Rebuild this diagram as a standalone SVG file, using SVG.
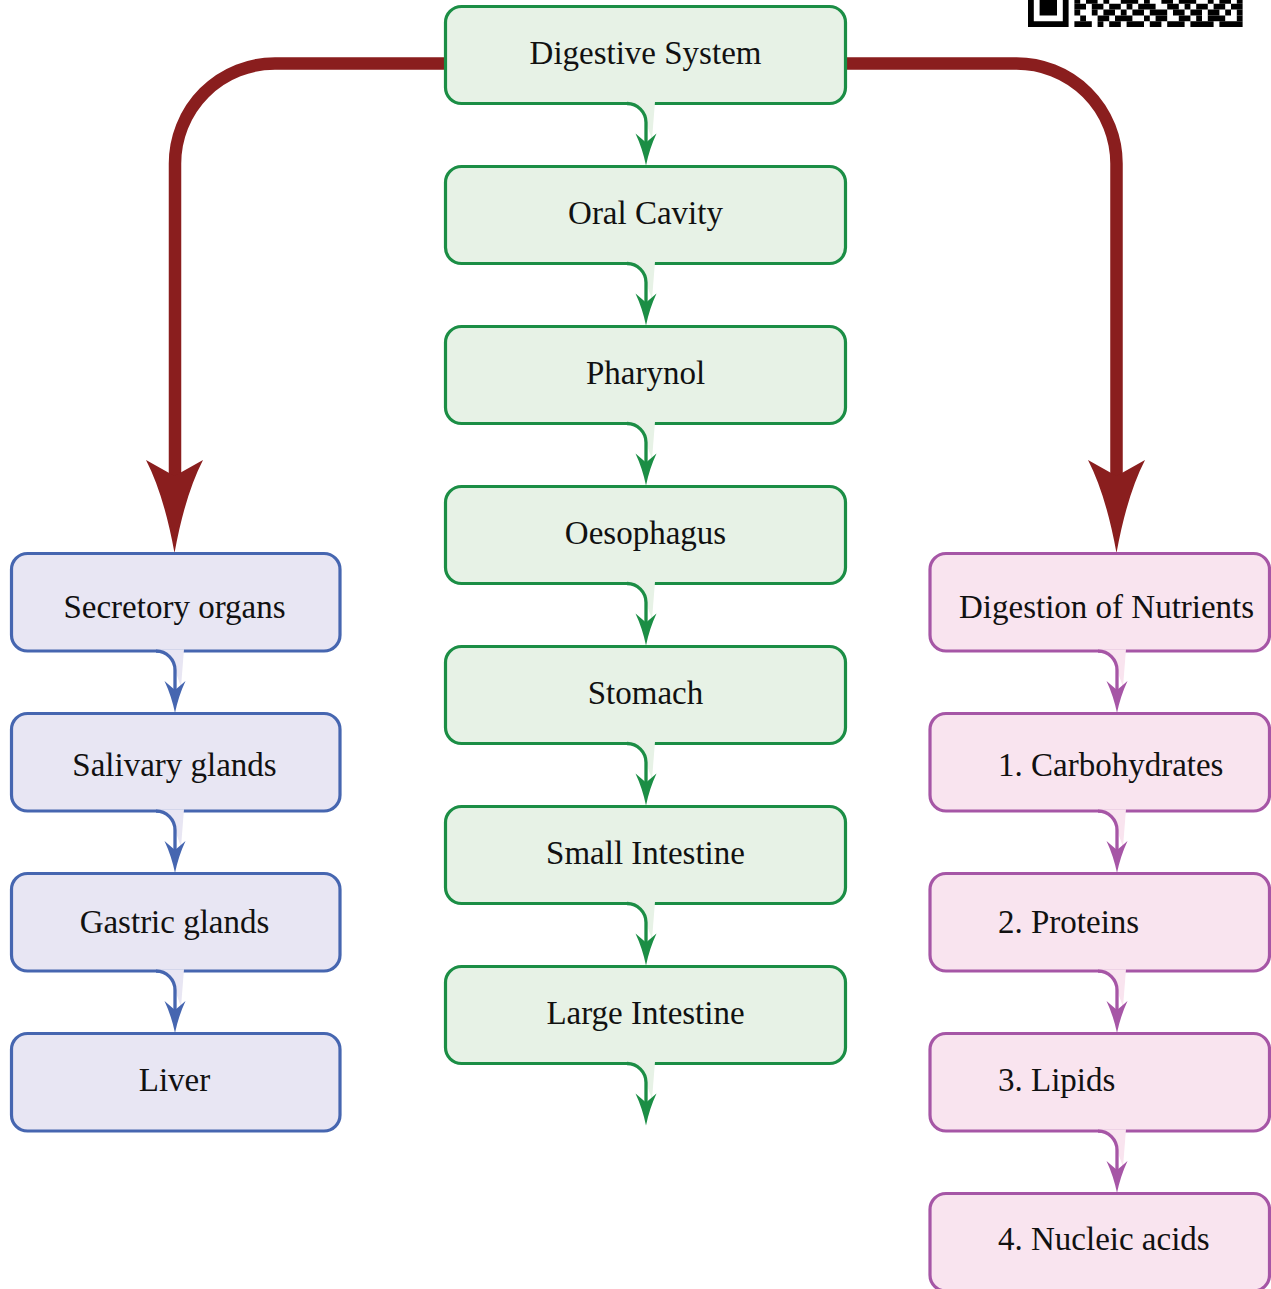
<svg xmlns="http://www.w3.org/2000/svg" xmlns:xlink="http://www.w3.org/1999/xlink" width="1271" height="1289" viewBox="0 0 1271 1289">
<style>
text{font-family:"Liberation Serif","Times New Roman",serif;font-size:33px;fill:#111}
.g rect{fill:#e7f2e6;stroke:#1b8e45;stroke-width:3.2}
.b rect{fill:#e8e6f3;stroke:#4666b0;stroke-width:3.2}
.p rect{fill:#f9e4ef;stroke:#a656a6;stroke-width:3.2}
.gc{fill:#e7f2e6;color:#1b8e45}
.bc{fill:#e8e6f3;color:#4666b0}
.pc{fill:#f9e4ef;color:#a656a6}
.red{fill:none;stroke:#8a1e1e;stroke-width:12.5}
.redhead{fill:#8a1e1e}
.mid{text-anchor:middle}
</style>
<defs>
<g id="conn">
<path d="M -19 -1.7 L -19 0 A 19 19 0 0 1 0 19 L 6 36 L 9 -1.7 Z" stroke="none"/>
<path d="M -19 0 A 19 19 0 0 1 0 19 V 40" fill="none" stroke="currentColor" stroke-width="3.3"/>
<path d="M 0 62 Q -3.5 45 -10.5 30 L 0 39 L 10.5 30 Q 3.5 45 0 62 Z" fill="currentColor" stroke="none"/>
</g>
</defs>

<g id="qr" transform="translate(1028 -187.6) scale(5.8)" fill="#000">
<path d="M0 30h7v1h-7zM0 30h1v7h-1zM6 30h1v7h-1zM0 36h7v1h-7zM2 32h3v3h-3z"/>
<path d="M8 32h1v1h-1zM10 32h2v1h-2zM13 32h1v1h-1zM16 32h3v1h-3zM20 32h1v1h-1zM23 32h2v1h-2zM26 32h3v1h-3zM31 32h1v1h-1zM33 32h2v1h-2zM36 32h1v1h-1z"/>
<path d="M8 33h2v1h-2zM11 33h2v1h-2zM14 33h2v1h-2zM17 33h1v1h-1zM19 33h3v1h-3zM24 33h2v1h-2zM27 33h1v1h-1zM29 33h2v1h-2zM32 33h2v1h-2zM35 33h2v1h-2z"/>
<path d="M8 34h1v1h-1zM11 34h1v1h-1zM13 34h2v1h-2zM16 34h1v1h-1zM18 34h2v1h-2zM21 34h3v1h-3zM25 34h2v1h-2zM28 34h2v1h-2zM31 34h2v1h-2zM34 34h1v1h-1zM36 34h1v1h-1z"/>
<path d="M9 35h1v1h-1zM12 35h2v1h-2zM15 35h3v1h-3zM20 35h1v1h-1zM22 35h2v1h-2zM26 35h2v1h-2zM29 35h1v1h-1zM31 35h3v1h-3zM36 35h1v1h-1z"/>
<path d="M8 36h3v1h-3zM12 36h1v1h-1zM14 36h2v1h-2zM17 36h3v1h-3zM21 36h2v1h-2zM24 36h3v1h-3zM28 36h4v1h-4zM33 36h4v1h-4z"/>
</g>

<g id="connectors">
<path class="red" d="M 447 63.5 H 275 A 100 100 0 0 0 175 163.5 V 478"/>
<path class="redhead" d="M 174.5 553 Q 164 495 146 460 L 174.5 476 L 203 460 Q 185 495 174.5 553 Z"/>
<path class="red" d="M 844 63.5 H 1016 A 100 100 0 0 1 1116.5 163.5 V 478"/>
<path class="redhead" d="M 1116.5 553 Q 1106 495 1088 460 L 1116.5 476 L 1145 460 Q 1127 495 1116.5 553 Z"/>
</g>

<g id="n-digestive" class="g"><rect x="445.5" y="6.5" width="400" height="97" rx="16"/><text class="mid" x="645.5" y="63.5">Digestive System</text></g>
<g id="n-oral" class="g"><rect x="445.5" y="166.5" width="400" height="97" rx="16"/><text class="mid" x="645.5" y="223.5">Oral Cavity</text></g>
<g id="n-pharynol" class="g"><rect x="445.5" y="326.5" width="400" height="97" rx="16"/><text class="mid" x="645.5" y="383.5">Pharynol</text></g>
<g id="n-oesophagus" class="g"><rect x="445.5" y="486.5" width="400" height="97" rx="16"/><text class="mid" x="645.5" y="543.5">Oesophagus</text></g>
<g id="n-stomach" class="g"><rect x="445.5" y="646.5" width="400" height="97" rx="16"/><text class="mid" x="645.5" y="703.5">Stomach</text></g>
<g id="n-small" class="g"><rect x="445.5" y="806.5" width="400" height="97" rx="16"/><text class="mid" x="645.5" y="863.5">Small Intestine</text></g>
<g id="n-large" class="g"><rect x="445.5" y="966.5" width="400" height="97" rx="16"/><text class="mid" x="645.5" y="1023.5">Large Intestine</text></g>

<g id="n-secretory" class="b"><rect x="11.5" y="553.5" width="328.5" height="97.5" rx="16"/><text class="mid" x="174.5" y="618">Secretory organs</text></g>
<g id="n-salivary" class="b"><rect x="11.5" y="713.5" width="328.5" height="97.5" rx="16"/><text class="mid" x="174.5" y="776">Salivary glands</text></g>
<g id="n-gastric" class="b"><rect x="11.5" y="873.5" width="328.5" height="97.5" rx="16"/><text class="mid" x="174.5" y="933">Gastric glands</text></g>
<g id="n-liver" class="b"><rect x="11.5" y="1033.5" width="328.5" height="97.5" rx="16"/><text class="mid" x="174.5" y="1091">Liver</text></g>

<g id="n-nutrients" class="p"><rect x="930" y="553.5" width="339.5" height="97.5" rx="16"/><text x="959" y="618">Digestion of Nutrients</text></g>
<g id="n-carbo" class="p"><rect x="930" y="713.5" width="339.5" height="97.5" rx="16"/><text x="998" y="776">1. Carbohydrates</text></g>
<g id="n-proteins" class="p"><rect x="930" y="873.5" width="339.5" height="97.5" rx="16"/><text x="998" y="933">2. Proteins</text></g>
<g id="n-lipids" class="p"><rect x="930" y="1033.5" width="339.5" height="97.5" rx="16"/><text x="998" y="1091">3. Lipids</text></g>
<g id="n-nucleic" class="p"><rect x="930" y="1193.5" width="339.5" height="97.5" rx="16"/><text x="998" y="1250">4. Nucleic acids</text></g>

<g id="flow-connectors">
<use href="#conn" class="gc" transform="translate(646 103.5)"/>
<use href="#conn" class="gc" transform="translate(646 263.5)"/>
<use href="#conn" class="gc" transform="translate(646 423.5)"/>
<use href="#conn" class="gc" transform="translate(646 583.5)"/>
<use href="#conn" class="gc" transform="translate(646 743.5)"/>
<use href="#conn" class="gc" transform="translate(646 903.5)"/>
<use href="#conn" class="gc" transform="translate(646 1063.5)"/>
<use href="#conn" class="bc" transform="translate(175 651)"/>
<use href="#conn" class="bc" transform="translate(175 811)"/>
<use href="#conn" class="bc" transform="translate(175 971)"/>
<use href="#conn" class="pc" transform="translate(1117 651)"/>
<use href="#conn" class="pc" transform="translate(1117 811)"/>
<use href="#conn" class="pc" transform="translate(1117 971)"/>
<use href="#conn" class="pc" transform="translate(1117 1131)"/>
</g>
</svg>
